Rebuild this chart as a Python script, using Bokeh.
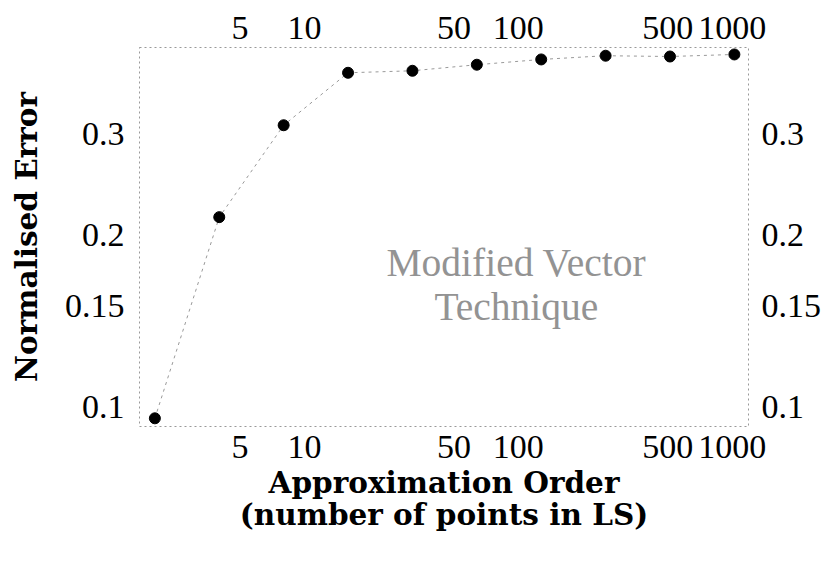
from bokeh.plotting import figure
from bokeh.models import LogAxis, FixedTicker, Range1d, Label
from bokeh.embed import file_html
from bokeh.resources import INLINE

# data
orders = [2, 4, 8, 16, 32, 64, 128, 256, 512, 1024]
errors = [0.0956, 0.2146, 0.3105, 0.3834, 0.3865, 0.396, 0.4045, 0.4106, 0.4093, 0.4127]

x_ticks = [5, 10, 50, 100, 500, 1000]
x_tick_labels = ["5", "10", "50", "100", "500", "1000"]
y_ticks = [0.1, 0.15, 0.2, 0.3]
y_tick_labels = ["0.1", "0.15", "0.2", "0.3"]

x_title = "Approximation Order\n(number of points in LS)"
y_title = "Normalised Error"
note = "Modified Vector\nTechnique"

TICK_FONT = "Liberation Serif"
TITLE_FONT = "DejaVu Serif"

p = figure(width=824, height=563, x_axis_type="log", y_axis_type="log",
           x_range=Range1d(1.695, 1192), y_range=Range1d(0.0925, 0.4244),
           output_backend="svg", toolbar_location=None,
           min_border_left=139, min_border_right=74, min_border_top=47, min_border_bottom=137)
p.grid.visible = False
p.outline_line_color = "#999999"
p.outline_line_dash = "2 3"
p.outline_line_width = 1
p.background_fill_color = "white"
p.border_fill_color = "white"


def style(ax, ticks, labels, standoff):
    ax.ticker = FixedTicker(ticks=ticks, minor_ticks=[])
    ax.major_label_overrides = dict(zip(ticks, labels))
    ax.axis_line_color = None
    ax.major_tick_line_color = None
    ax.minor_tick_line_color = None
    ax.major_label_text_font = TICK_FONT
    ax.major_label_text_font_size = "34px"
    ax.major_label_text_color = "black"
    ax.major_label_standoff = standoff


xb = p.xaxis[0]
style(xb, x_ticks, x_tick_labels, 3)
xb.axis_label = x_title
xb.axis_label_text_font = TITLE_FONT
xb.axis_label_text_font_style = "bold"
xb.axis_label_text_font_size = "29.5px"
xb.axis_label_text_line_height = 0.92
xb.axis_label_text_color = "black"
xb.axis_label_standoff = 4

yl = p.yaxis[0]
style(yl, y_ticks, y_tick_labels, 9)
yl.axis_label = y_title
yl.axis_label_text_font = TITLE_FONT
yl.axis_label_text_font_style = "bold"
yl.axis_label_text_font_size = "29.5px"
yl.axis_label_text_color = "black"
yl.axis_label_standoff = 18

xt = LogAxis()
style(xt, x_ticks, x_tick_labels, 3)
p.add_layout(xt, "above")

yr = LogAxis()
style(yr, y_ticks, y_tick_labels, 7)
p.add_layout(yr, "right")

p.line(orders, errors, line_color="#999999", line_width=1, line_dash="3 4")
p.scatter(orders, errors, size=11, fill_color="black", line_color="black")

p.add_layout(Label(x=98, y=0.1631, text=note, text_align="center", text_baseline="middle",
                   text_font=TICK_FONT, text_font_size="39.5px", text_color="#939393",
                   text_line_height=1.0))

open("out.html", "w").write(file_html(p, INLINE))
